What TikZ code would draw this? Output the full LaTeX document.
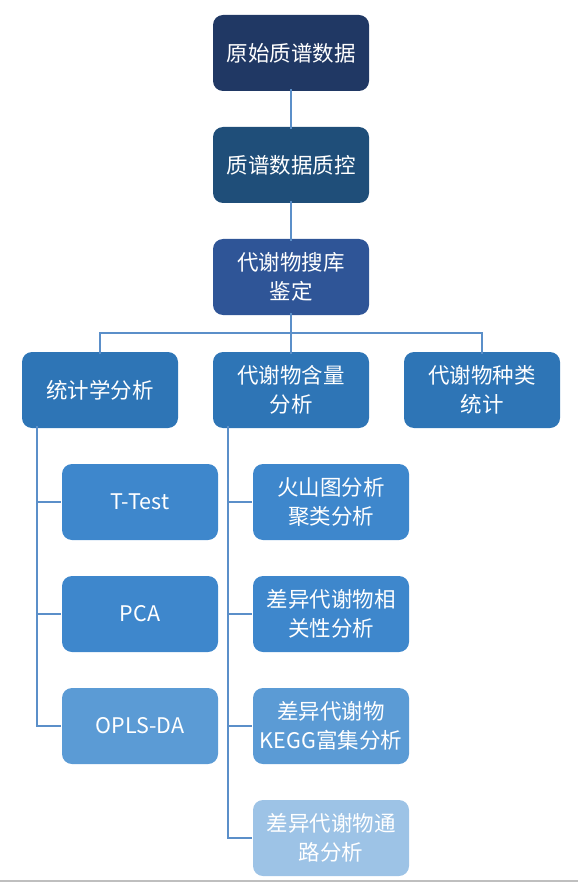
\documentclass[tikz,border=0pt]{standalone}
\usepackage{fontspec}
\setmainfont{Noto Sans CJK SC}
\definecolor{cA}{HTML}{203864}
\definecolor{cB}{HTML}{1F4E79}
\definecolor{cC}{HTML}{2F5597}
\definecolor{cD}{HTML}{2E75B6}
\definecolor{cE}{HTML}{3E87CC}
\definecolor{cF}{HTML}{5B9BD5}
\definecolor{cG}{HTML}{9DC3E6}
\definecolor{lnk}{HTML}{5B8FC9}
\begin{document}
\begin{tikzpicture}[x=1pt,y=-1pt,
  box/.style={rounded corners=10pt, minimum width=156pt, minimum height=76pt,
    text=white, font=\fontsize{21.5}{29}\selectfont, align=center, inner sep=0pt},
  link/.style={draw=lnk, line width=2pt}]
\useasboundingbox (0,0) rectangle (578,882);
\node[box, fill=cA] (a) at (291,53) {原始质谱数据};
\node[box, fill=cB] (b) at (291,165) {质谱数据质控};
\node[box, fill=cC] (c) at (291,277) {代谢物搜库\\鉴定};
\node[box, fill=cD] (d) at (100,390) {统计学分析};
\node[box, fill=cD] (e) at (291,390) {代谢物含量\\分析};
\node[box, fill=cD] (f) at (482,390) {代谢物种类\\统计};
\node[box, fill=cE] (t) at (140,502) {T-Test};
\node[box, fill=cE] (p) at (140,614) {PCA};
\node[box, fill=cF] (o) at (140,726) {OPLS-DA};
\node[box, fill=cE] (v) at (331,502) {火山图分析\\聚类分析};
\node[box, fill=cE] (r) at (331,614) {差异代谢物相\\关性分析};
\node[box, fill=cF] (k) at (331,726) {差异代谢物\\KEGG富集分析};
\node[box, fill=cG] (w) at (331,838) {差异代谢物通\\路分析};
\draw[link] ([yshift=2pt]a.south) -- ([yshift=-2pt]b.north);
\draw[link] ([yshift=2pt]b.south) -- ([yshift=-2pt]c.north);
\coordinate (h) at (291,333);
\draw[link] ([yshift=2pt]c.south) -- (h);
\draw[link] ([yshift=-2pt]d.north) |- (h) -| ([yshift=-2pt]f.north);
\draw[link] (h) -- ([yshift=-2pt]e.north);
\coordinate (dl) at ([xshift=-63pt,yshift=2pt]d.south);
\coordinate (el) at ([xshift=-63pt,yshift=2pt]e.south);
\draw[link] (dl) |- ([xshift=-1pt]o.west);
\draw[link] (dl |- t.west) -- ([xshift=-1pt]t.west);
\draw[link] (dl |- p.west) -- ([xshift=-1pt]p.west);
\draw[link] (el) |- ([xshift=-1pt]w.west);
\draw[link] (el |- v.west) -- ([xshift=-1pt]v.west);
\draw[link] (el |- r.west) -- ([xshift=-1pt]r.west);
\draw[link] (el |- k.west) -- ([xshift=-1pt]k.west);
\coordinate (g1) at (0,881);
\coordinate (g2) at (578,881);
\draw[draw=black!25, line width=1.5pt] (g1) -- (g2);
\end{tikzpicture}
\end{document}
